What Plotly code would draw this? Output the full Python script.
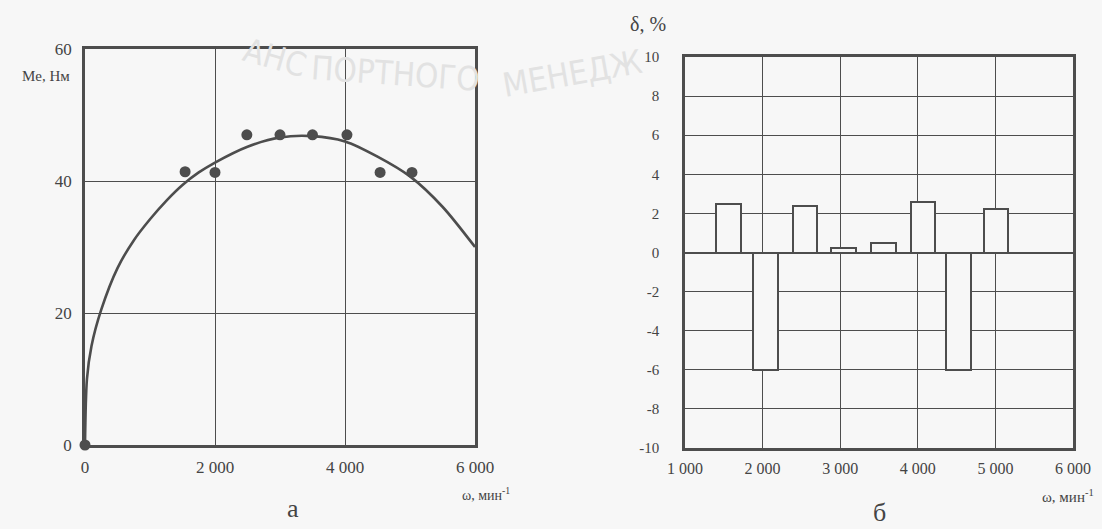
import plotly.graph_objects as go

# ---- data (left panel: torque curve) ----
omega_meas = [0, 1540, 2000, 2490, 3000, 3500, 4030, 4540, 5030]
me_meas = [0, 41.4, 41.3, 47.0, 47.0, 47.0, 47.0, 41.3, 41.3]

omega_curve = [0, 30, 100, 250, 500, 750, 1000, 1250, 1500, 1750, 2000, 2500, 3000,
               3500, 4000, 4500, 5000, 5500, 6000]
me_curve = [0, 10, 15, 20.5, 26.8, 31.0, 34.2, 37.0, 39.4, 41.3, 42.8, 45.2, 46.6,
            46.8, 46.0, 43.7, 40.7, 36.1, 30.0]

left_xticks = [0, 2000, 4000, 6000]
left_xticktext = ["0", "2 000", "4 000", "6 000"]
left_yticks = [0, 20, 40, 60]

# ---- data (right panel: deviation bars) ----
omega_bars = [1563, 2035, 2546, 3044, 3556, 4066, 4522, 5008]
delta_vals = [2.5, -6.0, 2.4, 0.25, 0.5, 2.6, -6.0, 2.2]

right_xticks = [1000, 2000, 3000, 4000, 5000, 6000]
right_xticktext = ["1 000", "2 000", "3 000", "4 000", "5 000", "6 000"]
right_yticks = [10, 8, 6, 4, 2, 0, -2, -4, -6, -8, -10]
right_yticktext = ["10", "8", "6", "4", "2", "0", "-2", "-4", "-6", "-8", "-10"]

INK = "#4d4d4d"
SERIF = "Liberation Serif"
W, H = 1102, 529

fig = go.Figure()

fig.add_trace(go.Scatter(
    x=omega_curve, y=me_curve, mode="lines",
    line=dict(color=INK, width=2.6, shape="spline", smoothing=0.8),
    xaxis="x", yaxis="y", hoverinfo="skip"))
fig.add_trace(go.Scatter(
    x=omega_meas, y=me_meas, mode="markers", marker=dict(color=INK, size=11),
    xaxis="x", yaxis="y", cliponaxis=False))

fig.add_trace(go.Bar(
    x=omega_bars, y=delta_vals, width=320,
    marker=dict(color="#f7f7f7", line=dict(color=INK, width=2)),
    xaxis="x2", yaxis="y2"))


def px_x(p):
    return p / W


def px_y(p):
    return 1 - p / H


axis_common = dict(showline=True, mirror=True, linecolor=INK, linewidth=2.6,
                   showgrid=True, gridcolor=INK, gridwidth=1.4, zeroline=False,
                   automargin=False, ticks="",
                   tickfont=dict(family=SERIF, size=17, color="#444"))

fig.update_layout(
    width=W, height=H,
    margin=dict(l=0, r=0, t=0, b=0),
    paper_bgcolor="#f7f7f7", plot_bgcolor="#f7f7f7",
    showlegend=False,
    bargap=0,
    xaxis=dict(axis_common, domain=[px_x(85), px_x(475)], range=[0, 6000],
               tickvals=left_xticks, ticktext=left_xticktext, anchor="y",
               ticklabelstandoff=5),
    yaxis=dict(axis_common, domain=[px_y(445), px_y(49)], range=[0, 60],
               tickvals=left_yticks, anchor="x", ticklabelstandoff=7),
    xaxis2=dict(axis_common, domain=[px_x(685), px_x(1073)], range=[1000, 6000],
                tickvals=right_xticks, ticktext=right_xticktext, anchor="y2",
                ticklabelstandoff=4, tickfont=dict(family=SERIF, size=16, color="#444")),
    yaxis2=dict(axis_common, domain=[px_y(448), px_y(57)], range=[-10, 10],
                tickvals=right_yticks, ticktext=right_yticktext, anchor="x2",
                ticklabelstandoff=20,
                zeroline=True, zerolinecolor=INK, zerolinewidth=2.4,
                tickfont=dict(family=SERIF, size=15, color="#444")),
)

# faint watermark text of the scanned source (drawn first, behind the labels)
wm = [
    dict(text="АНС", x=px_x(236), y=px_y(28), angle=16),
    dict(text="ПОРТНОГО", x=px_x(395), y=px_y(46), angle=4),
    dict(text="МЕНЕДЖ", x=px_x(572), y=px_y(40), angle=-10),
]
for a in wm:
    fig.add_annotation(text=a["text"], x=a["x"], y=a["y"], xref="paper", yref="paper",
                       showarrow=False, textangle=a["angle"],
                       font=dict(family="DejaVu Sans Condensed", size=33, color="#e2e2e2"))

annots = [
    dict(text="Me, Нм", x=px_x(46), y=px_y(76), size=15),
    dict(text="ω, мин<sup>-1</sup>", x=px_x(486), y=px_y(494), size=14),
    dict(text="а", x=px_x(293), y=px_y(508), size=26),
    dict(text="δ, %", x=px_x(648), y=px_y(24), size=20),
    dict(text="ω, мин<sup>-1</sup>", x=px_x(1068), y=px_y(496), size=15),
    dict(text="б", x=px_x(880), y=px_y(512), size=26),
]
for a in annots:
    fig.add_annotation(text=a["text"], x=a["x"], y=a["y"], xref="paper", yref="paper",
                       showarrow=False, xanchor="center", yanchor="middle",
                       font=dict(family=SERIF, size=a["size"], color="#444"))

fig.write_html("out.html", config={"displayModeBar": False},
               post_script="document.body.style.margin='0px';")
